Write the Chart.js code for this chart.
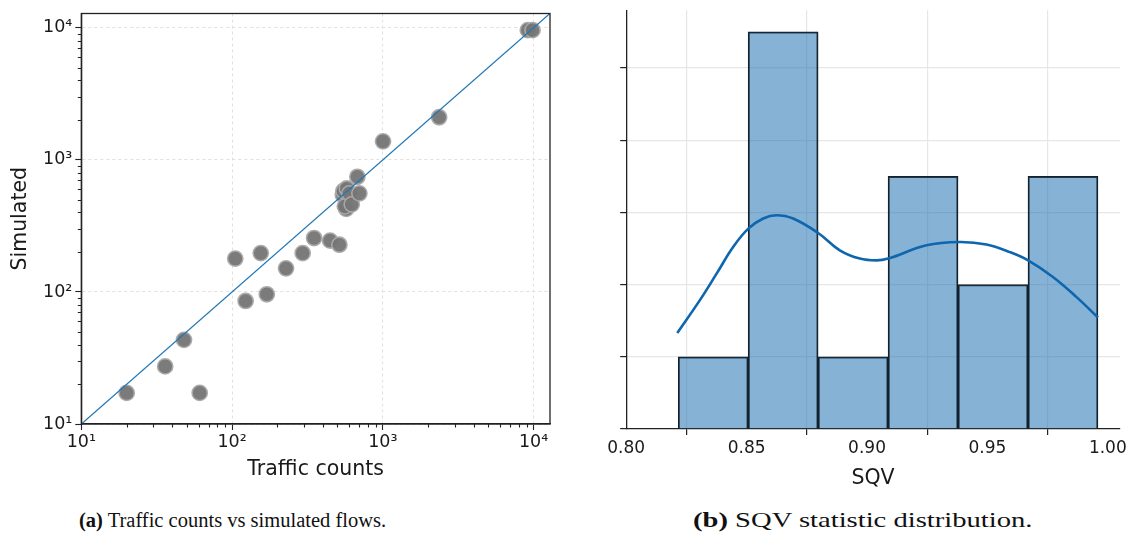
<!DOCTYPE html>
<html><head><meta charset="utf-8">
<script src="https://cdn.jsdelivr.net/npm/chart.js@4.4.1/dist/chart.umd.min.js"></script>
<style>
html,body{margin:0;padding:0;background:#fff;}
body{width:1130px;height:543px;position:relative;overflow:hidden;}
#ca{position:absolute;left:0;top:0;}
#cb{position:absolute;left:580px;top:0;}
.cap{position:absolute;top:507px;font-family:"Liberation Serif","DejaVu Serif",serif;color:#111;white-space:nowrap;line-height:26px;transform-origin:0 50%;}
</style></head><body>
<canvas id="ca" width="565" height="490"></canvas>
<canvas id="cb" width="550" height="493"></canvas>
<div class="cap" style="left:79px;font-size:20.5px"><b>(a)</b> Traffic counts vs simulated flows.</div>
<div class="cap" style="left:693px;font-size:21.5px;transform:scaleX(1.33)"><b>(b)</b> SQV statistic distribution.</div>
<script>
// ---------- data: panel (a) ----------
const trafficCounts  = [20, 36, 48, 61, 105, 123, 155, 170, 228, 294, 350, 447, 515, 543, 548, 572, 560, 577, 600, 622, 699, 678, 1003, 2363, 9160, 9840];
const simulatedFlows = [17.2, 27.3, 43.4, 17.2, 179, 85.5, 197, 96, 151, 197, 256, 245, 228, 542, 582, 426, 445, 608, 558, 461, 558, 745, 1382, 2104, 9610, 9610];
const identityLine   = [10, 12850];
const logTicks       = [10, 100, 1000, 10000];
const logTickLabels  = ['10\u00b9', '10\u00b2', '10\u00b3', '10\u2074'];
const minorMultipliers = [2, 3, 4, 5, 6, 7, 8, 9];

// ---------- data: panel (b) ----------
const binEdges  = [0.8216, 0.85065, 0.8797, 0.90875, 0.9378, 0.96685, 0.9959];
const binCounts = [2, 11, 2, 7, 4, 7];
const kdeX = [0.8212, 0.8306, 0.8376, 0.8444, 0.8507, 0.8569, 0.8624, 0.8693, 0.8797, 0.8887, 0.8970, 0.9039, 0.9088, 0.9247, 0.9385, 0.9496, 0.9593, 0.9669, 0.9772, 0.9869, 0.9959];
const kdeY = [2.66, 3.57, 4.31, 5.04, 5.55, 5.83, 5.92, 5.83, 5.43, 4.95, 4.72, 4.67, 4.72, 5.09, 5.18, 5.11, 4.90, 4.67, 4.21, 3.66, 3.09];
const sqvTicks      = [0.80, 0.85, 0.90, 0.95, 1.00];
const sqvTickLabels = ['0.80', '0.85', '0.90', '0.95', '1.00'];
const countTicks    = [0, 2, 4, 6, 8, 10];

const FONT = '"DejaVu Sans", sans-serif';
Chart.defaults.font.family = FONT;
Chart.defaults.color = '#1a1a1a';

// ---------- panel (a) ----------
const framePlugin = {
  id: 'frame',
  afterDraw(chart) {
    const {ctx, chartArea: a, scales} = chart;
    const xs = scales.x, ys = scales.y;
    ctx.save();
    ctx.strokeStyle = '#222';
    ctx.lineWidth = 1.1;
    ctx.beginPath();
    logTicks.forEach(d => {
      minorMultipliers.forEach(m => {
        const v = d * m;
        if (v < xs.max) { const px = Math.round(xs.getPixelForValue(v)) + 0.5; ctx.moveTo(px, a.bottom); ctx.lineTo(px, a.bottom + 3.5); }
        if (v < ys.max) { const py = Math.round(ys.getPixelForValue(v)) + 0.5; ctx.moveTo(a.left, py); ctx.lineTo(a.left - 3.5, py); }
      });
    });
    ctx.stroke();
    ctx.lineWidth = 1.3;
    ctx.strokeRect(a.left, a.top, a.right - a.left, a.bottom - a.top);
    ctx.restore();
  }
};

new Chart(document.getElementById('ca'), {
  type: 'scatter',
  data: {
    datasets: [
      {
        type: 'line',
        data: identityLine.map(v => ({x: v, y: v})),
        borderColor: '#1f77b4', borderWidth: 1.3,
        pointRadius: 0, fill: false, order: 0
      },
      {
        data: trafficCounts.map((v, i) => ({x: v, y: simulatedFlows[i]})),
        backgroundColor: 'rgba(118,118,118,0.96)',
        borderColor: 'rgba(170,170,170,0.95)', borderWidth: 1.6,
        pointRadius: 7.6, order: 1
      }
    ]
  },
  options: {
    responsive: false, animation: false, devicePixelRatio: 1,
    layout: {padding: {left: 0, top: 10.7, right: 15, bottom: 0}},
    plugins: {legend: {display: false}, tooltip: {enabled: false}},
    scales: {
      x: {
        type: 'logarithmic', min: 10, max: 12850,
        afterBuildTicks: s => { s.ticks = logTicks.map(v => ({value: v})); },
        afterFit: s => { s.height = 66; },
        ticks: {font: {size: 17.5}, color: '#1a1a1a', padding: 2, maxRotation: 0, autoSkip: false,
          callback: (v) => logTickLabels[logTicks.indexOf(v)] ?? ''},
        grid: {color: '#d9d9d9', lineWidth: 0.8, tickColor: '#222', tickLength: 6, tickWidth: 1.1},
        border: {display: true, color: '#222', width: 1.3, dash: [3, 3]},
        title: {display: true, text: 'Traffic counts', font: {size: 20.5}, color: '#1a1a1a', padding: {top: 0, bottom: 8}}
      },
      y: {
        type: 'logarithmic', min: 10, max: 12850,
        afterBuildTicks: s => { s.ticks = logTicks.map(v => ({value: v})); },
        afterFit: s => { s.width = 81.3; },
        ticks: {font: {size: 17.5}, color: '#1a1a1a', padding: 3, autoSkip: false,
          callback: (v) => logTickLabels[logTicks.indexOf(v)] ?? ''},
        grid: {color: '#d9d9d9', lineWidth: 0.8, tickColor: '#222', tickLength: 6, tickWidth: 1.1},
        border: {display: true, color: '#222', width: 1.3, dash: [3, 3]},
        title: {display: true, text: 'Simulated', font: {size: 20.5}, color: '#1a1a1a', padding: {top: 8, bottom: 0}}
      }
    }
  },
  plugins: [framePlugin]
});

// ---------- panel (b) ----------
const binCenters = binCounts.map((c, i) => ({x: (binEdges[i] + binEdges[i + 1]) / 2, y: c}));

new Chart(document.getElementById('cb'), {
  type: 'bar',
  data: {
    datasets: [
      {
        type: 'line',
        data: kdeX.map((x, i) => ({x, y: kdeY[i]})),
        borderColor: 'rgb(14,102,174)', borderWidth: 2.6,
        pointRadius: 0, tension: 0.4, fill: false, order: 0
      },
      {
        type: 'bar',
        data: binCenters,
        backgroundColor: 'rgba(14,102,174,0.5)',
        borderColor: '#1e1e1e', borderWidth: 1.3,
        barPercentage: 1, categoryPercentage: 1, grouped: false, order: 1
      }
    ]
  },
  options: {
    responsive: false, animation: false, devicePixelRatio: 1,
    layout: {padding: {left: 0, top: 10, right: 10, bottom: 0}},
    plugins: {legend: {display: false}, tooltip: {enabled: false}},
    scales: {
      x: {
        type: 'linear', min: 0.8, max: 1.005, offset: false,
        afterBuildTicks: s => { s.ticks = sqvTicks.map(v => ({value: v})); },
        afterFit: s => { s.height = 64; },
        ticks: {font: {size: 17}, color: '#1a1a1a', padding: 3, maxRotation: 0, autoSkip: false,
          callback: (v) => { const i = sqvTicks.findIndex(t => Math.abs(t - v) < 1e-9); return i >= 0 ? sqvTickLabels[i] : ''; }},
        grid: {color: '#e6e6e6', lineWidth: 1.2, tickColor: '#222', tickLength: 6, tickWidth: 1.2},
        border: {display: true, color: '#222', width: 1.3},
        title: {display: true, text: 'SQV', font: {size: 20.5}, color: '#1a1a1a', padding: {top: 0, bottom: 2}}
      },
      y: {
        type: 'linear', min: 0, max: 11.6,
        afterBuildTicks: s => { s.ticks = countTicks.map(v => ({value: v})); },
        afterFit: s => { s.width = 46.2; },
        ticks: {font: {size: 17}, padding: 0, autoSkip: false, callback: () => ''},
        grid: {color: (c) => c.tick && c.tick.value === 0 ? 'rgba(0,0,0,0)' : '#e6e6e6', lineWidth: 1.2, tickColor: '#222', tickLength: 6, tickWidth: 1.2},
        border: {display: true, color: '#222', width: 1.3}
      }
    }
  }
});
</script>
</body></html>
